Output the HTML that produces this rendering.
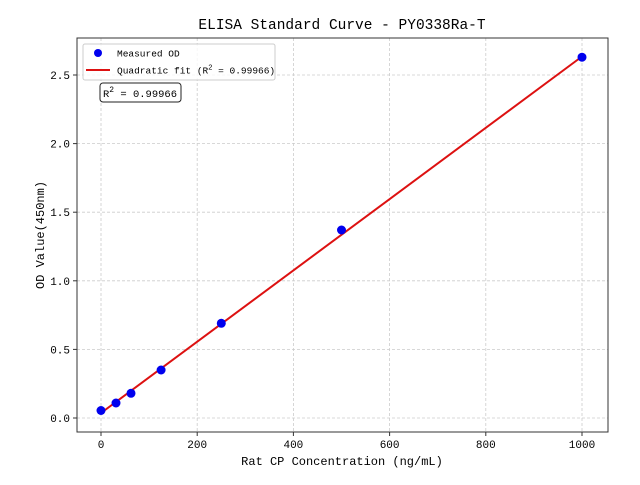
<!DOCTYPE html>
<html><head><meta charset="utf-8"><style>body{margin:0;background:#fff}</style></head><body>
<svg width="640" height="480" xmlns="http://www.w3.org/2000/svg" font-family="'Liberation Mono','WenQuanYi Zen Hei',monospace" fill="#000">
<rect width="640" height="480" fill="#fff"/>
<g stroke="#ccc" stroke-dasharray="3,2" stroke-width="0.8">
<line x1="101" y1="38" x2="101" y2="432"/><line x1="197.2" y1="38" x2="197.2" y2="432"/><line x1="293.4" y1="38" x2="293.4" y2="432"/><line x1="389.6" y1="38" x2="389.6" y2="432"/><line x1="485.8" y1="38" x2="485.8" y2="432"/><line x1="582" y1="38" x2="582" y2="432"/>
<line x1="77" y1="418" x2="608" y2="418"/><line x1="77" y1="349.4" x2="608" y2="349.4"/><line x1="77" y1="280.8" x2="608" y2="280.8"/><line x1="77" y1="212.2" x2="608" y2="212.2"/><line x1="77" y1="143.6" x2="608" y2="143.6"/><line x1="77" y1="75" x2="608" y2="75"/>
</g>
<line x1="101" y1="413" x2="582" y2="56.5" stroke="#dd1111" stroke-width="2"/>
<g fill="#0000ee">
<circle cx="101" cy="410.5" r="4.5"/><circle cx="116" cy="403" r="4.5"/><circle cx="131" cy="393.3" r="4.5"/><circle cx="161.1" cy="370" r="4.5"/><circle cx="221.3" cy="323.3" r="4.5"/><circle cx="341.5" cy="230" r="4.5"/><circle cx="582" cy="57.2" r="4.5"/>
</g>
<rect x="77" y="38" width="531" height="394" fill="none" stroke="#333" stroke-width="1"/>
<g stroke="#333"><line x1="101" y1="432" x2="101" y2="436"/><line x1="197.2" y1="432" x2="197.2" y2="436"/><line x1="293.4" y1="432" x2="293.4" y2="436"/><line x1="389.6" y1="432" x2="389.6" y2="436"/><line x1="485.8" y1="432" x2="485.8" y2="436"/><line x1="582" y1="432" x2="582" y2="436"/>
<line x1="73" y1="418" x2="77" y2="418"/><line x1="73" y1="349.4" x2="77" y2="349.4"/><line x1="73" y1="280.8" x2="77" y2="280.8"/><line x1="73" y1="212.2" x2="77" y2="212.2"/><line x1="73" y1="143.6" x2="77" y2="143.6"/><line x1="73" y1="75" x2="77" y2="75"/></g>
<g font-size="11" text-anchor="middle"><text x="101" y="448">0</text><text x="197.2" y="448">200</text><text x="293.4" y="448">400</text><text x="389.6" y="448">600</text><text x="485.8" y="448">800</text><text x="582" y="448">1000</text></g>
<g font-size="11" text-anchor="end"><text x="70" y="422">0.0</text><text x="70" y="353.4">0.5</text><text x="70" y="284.8">1.0</text><text x="70" y="216.2">1.5</text><text x="70" y="147.6">2.0</text><text x="70" y="79">2.5</text></g>
<text x="342" y="465" font-size="12" text-anchor="middle">Rat CP Concentration (ng/mL)</text>
<text transform="translate(44,235) rotate(-90)" font-size="12" text-anchor="middle">OD Value(450nm)</text>
<text x="342" y="29" font-size="14.5" text-anchor="middle">ELISA Standard Curve - PY0338Ra-T</text>
<rect x="83" y="44" width="192" height="36" rx="2" fill="#fff" fill-opacity="0.8" stroke="#ccc"/>
<circle cx="98" cy="53" r="4" fill="#0000ee"/>
<text x="117" y="56.5" font-size="9.5">Measured OD</text>
<line x1="86" y1="70" x2="110" y2="70" stroke="#dd1111" stroke-width="2"/>
<text x="117" y="73.5" font-size="9.5">Quadratic fit (R<tspan dy="-4" font-size="7">2</tspan><tspan dy="4"> = 0.99966)</tspan></text>
<rect x="100" y="83" width="81" height="19" rx="3" fill="#fff" stroke="#222"/>
<text x="103" y="97" font-size="10.5" textLength="74" lengthAdjust="spacingAndGlyphs">R<tspan dy="-5" font-size="8">2</tspan><tspan dy="5"> = 0.99966</tspan></text>
</svg>
</body></html>
